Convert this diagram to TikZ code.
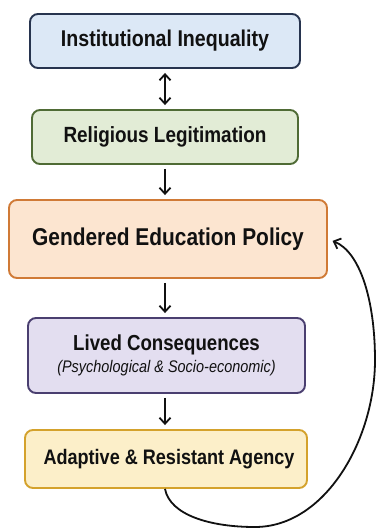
\documentclass[tikz,border=0pt]{standalone}
\usepackage{fontspec}
\setmainfont{Liberation Sans}[FakeStretch=0.86]
\usetikzlibrary{arrows.meta}
\definecolor{f1}{HTML}{DCE8F6}\definecolor{d1}{HTML}{27344F}
\definecolor{f2}{HTML}{E2ECD6}\definecolor{d2}{HTML}{4F6B35}
\definecolor{f3}{HTML}{FCE5D0}\definecolor{d3}{HTML}{D07A36}
\definecolor{f4}{HTML}{E3DEF0}\definecolor{d4}{HTML}{4A3F70}
\definecolor{f5}{HTML}{FCEFC9}\definecolor{d5}{HTML}{D4A22C}
\definecolor{ink}{HTML}{111111}
\tikzset{
  tip/.tip={Straight Barb[length=6pt,width=11pt,line width=1.8pt]},
  box/.style={rounded corners=8pt, line width=1.9pt, inner sep=0pt, align=center, text=ink, font=\bfseries},
  flow/.style={line width=1.8pt, draw=ink, -tip, shorten <=4pt, shorten >=4pt},
  flowboth/.style={line width=1.8pt, draw=ink, tip-tip, shorten <=4pt, shorten >=4pt},
}
\begin{document}
\begin{tikzpicture}[x=1pt,y=1pt]
\useasboundingbox[fill=white] (0,0) rectangle (377,-528);
\node[box, fill=f1, draw=d1, minimum width=270pt, minimum height=54pt, font=\bfseries\fontsize{22.8}{26}\selectfont] (b1) at (165,-41) {Institutional Inequality};
\node[box, fill=f2, draw=d2, minimum width=266pt, minimum height=54pt, font=\bfseries\fontsize{22}{26}\selectfont] (b2) at (165,-137) {Religious Legitimation};
\node[box, fill=f3, draw=d3, minimum width=318pt, minimum height=78pt, font=\bfseries\fontsize{24.3}{28}\selectfont] (b3) at (168,-239) {Gendered Education Policy};
\node[box, fill=f4, draw=d4, minimum width=277pt, minimum height=75pt] (b4) at (166.5,-355.5) {{\fontsize{21.7}{26}\selectfont Lived Consequences}\\[5pt]{\mdseries\itshape\fontsize{16.8}{19}\selectfont (Psychological \& Socio-economic)}};
\node[box, fill=f5, draw=d5, minimum width=282pt, minimum height=58pt, font=\bfseries\fontsize{21}{25}\selectfont] (b5) at (166,-459) {\hspace*{6pt}Adaptive \& Resistant Agency};
\draw[flowboth] (b1.south) -- (b2.north);
\draw[flow] (b2.south) -- (b2.south |- b3.north);
\draw[flow] (b2.south |- b3.south) -- (b2.south |- b4.north);
\draw[flow] (b2.south |- b4.south) -- (b2.south |- b5.north);
\coordinate (low) at (255,-527);
\coordinate (right) at (375,-360);
\draw[line width=1.8pt, draw=ink, -tip, shorten >=5pt]
  (b2.south |- b5.south) .. controls (170,-515) and (210,-527) .. (low)
  .. controls (325,-527) and (375,-440) .. (right)
  .. controls (375,-300) and (360,-252) .. (b3.east);
\end{tikzpicture}
\end{document}
